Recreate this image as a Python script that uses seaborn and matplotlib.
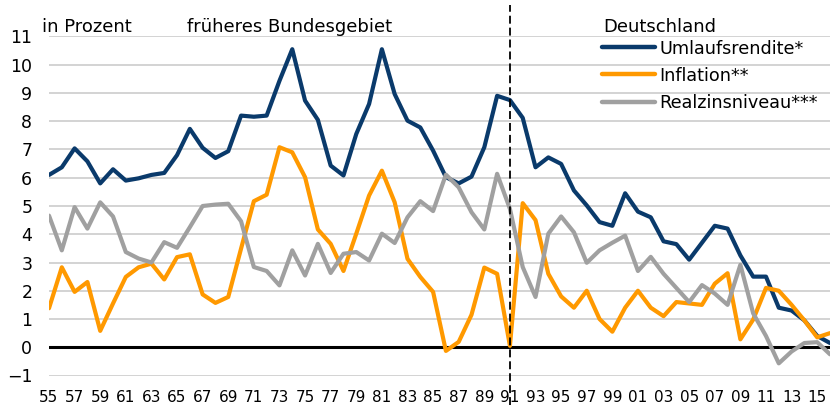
import numpy as np
import pandas as pd
import matplotlib
matplotlib.use("Agg")
import matplotlib.pyplot as plt
import seaborn as sns

# data (percent)
years = list(range(1955, 2017))

umlaufsrendite = [
    6.1, 6.37, 7.04, 6.58, 5.8, 6.3, 5.9, 5.98, 6.1, 6.17,
    6.8, 7.73, 7.06, 6.7, 6.94, 8.2, 8.16, 8.2, 9.43, 10.55,
    8.73, 8.05, 6.43, 6.08, 7.55, 8.61, 10.55, 8.96, 8.02, 7.78,
    6.96, 6.02, 5.8, 6.04, 7.08, 8.9, 8.75, 8.12, 6.37, 6.72,
    6.49, 5.55, 5.02, 4.43, 4.3, 5.45, 4.8, 4.6, 3.75, 3.65,
    3.1, 3.7, 4.3, 4.2, 3.25, 2.5, 2.5, 1.4, 1.3, 0.95,
    0.4, 0.15,
]
inflation = [
    1.38, 2.83, 1.96, 2.31, 0.58, 1.55, 2.49, 2.83, 2.96, 2.4,
    3.19, 3.29, 1.87, 1.57, 1.78, 3.49, 5.17, 5.4, 7.08, 6.9,
    6.02, 4.17, 3.66, 2.7, 4.02, 5.37, 6.25, 5.13, 3.13, 2.49,
    1.96, -0.13, 0.19, 1.15, 2.82, 2.6, 0.05, 5.1, 4.5, 2.6,
    1.8, 1.4, 2.0, 1.0, 0.55, 1.4, 2.0, 1.4, 1.1, 1.6,
    1.55, 1.5, 2.25, 2.62, 0.28, 0.98, 2.1, 2.0, 1.5, 0.95,
    0.35, 0.5,
]
realzins = [
    4.66, 3.43, 4.96, 4.2, 5.13, 4.63, 3.37, 3.14, 3.0, 3.72,
    3.52, 4.25, 5.0, 5.05, 5.08, 4.46, 2.84, 2.7, 2.19, 3.43,
    2.54, 3.66, 2.63, 3.31, 3.37, 3.07, 4.02, 3.69, 4.6, 5.17,
    4.82, 6.11, 5.66, 4.78, 4.17, 6.14, 4.9, 2.84, 1.78, 4.02,
    4.63, 4.07, 2.99, 3.43, 3.7, 3.95, 2.7, 3.2, 2.6, 2.1,
    1.6, 2.2, 1.9, 1.5, 2.92, 1.2, 0.4, -0.57, -0.15, 0.15,
    0.18, -0.25,
]

series_names = ["Umlaufsrendite*", "Inflation**", "Realzinsniveau***"]
series_colors = ["#0A3A6B", "#FF9900", "#A0A0A0"]
x_ticks = list(range(1955, 2016, 2))
x_labels = [f"{y % 100:02d}" for y in x_ticks]
y_ticks = list(range(-1, 12))

df = pd.DataFrame({
    "Jahr": years * 3,
    "Wert": umlaufsrendite + inflation + realzins,
    "Reihe": [series_names[0]] * len(years)
             + [series_names[1]] * len(years)
             + [series_names[2]] * len(years),
})

sns.set_theme(style="white")
plt.rcParams["font.family"] = ["DejaVu Sans"]
plt.rcParams["text.color"] = "black"
plt.rcParams["xtick.color"] = "black"
plt.rcParams["ytick.color"] = "black"

W, H = 830, 405
pad = 0.03  # a bit of room so the -1 and 11 gridlines are not clipped
unit = 339 / 12
fig = plt.figure(figsize=(W / 100, H / 100), dpi=100)
ax = fig.add_axes([49 / W, (H - 375.5 - pad * unit) / H,
                   (W - 49) / W, (339 + 2 * pad * unit) / H])

sns.lineplot(data=df, x="Jahr", y="Wert", hue="Reihe",
             palette=dict(zip(series_names, series_colors)),
             linewidth=3, ax=ax, zorder=3)

ax.set_xlim(1955, 2016)
ax.set_ylim(-1 - pad, 11 + pad)
ax.set_xticks(x_ticks)
ax.set_xticklabels(x_labels)
ax.set_yticks(y_ticks)
ax.set_xlabel("")
ax.set_ylabel("")
ax.tick_params(axis="x", length=0, pad=10, labelsize=11, labelcolor="black")
ax.tick_params(axis="y", length=0, pad=12, labelsize=12.5, labelcolor="black")
ax.grid(False)
for yv in y_ticks:
    ax.axhline(yv, color="#C8C8C8", linewidth=1.1, zorder=1)
sns.despine(ax=ax, left=True, bottom=True)

# zero line and 1991 break
ax.axhline(0, color="black", linewidth=2.2, zorder=2)
ax.plot([1991, 1991], [-2.05, 12.1], color="black", linewidth=1.3,
        linestyle=(0, (4.4, 2.2)), clip_on=False, zorder=5)

# header texts
fig.text(42 / W, 1 - 32.5 / H, "in Prozent", fontsize=13, va="baseline")
fig.text(187 / W, 1 - 32.5 / H, "früheres Bundesgebiet", fontsize=13, va="baseline")
fig.text(603 / W, 1 - 31.5 / H, "Deutschland", fontsize=13, va="baseline")

sns.move_legend(ax, "upper left", bbox_to_anchor=(601.7 / W, 1 - 39.5 / H),
                bbox_transform=fig.transFigure, frameon=False, title=None,
                fontsize=12.7, handlelength=3.0, handletextpad=0.28,
                labelspacing=0.52, borderpad=0, borderaxespad=0)
for line in ax.get_legend().get_lines():
    line.set_linewidth(3.2)

fig.savefig("out.png", dpi=100)
